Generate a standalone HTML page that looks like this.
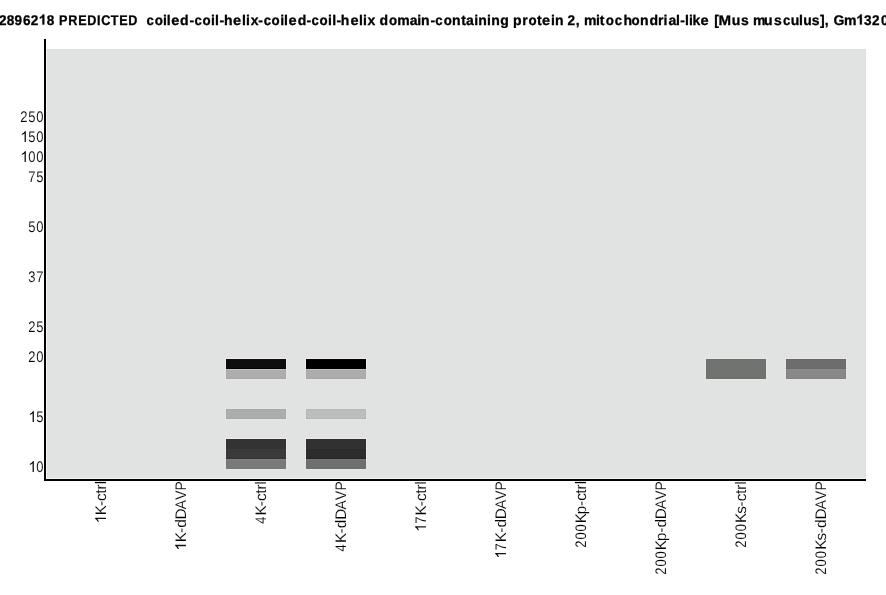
<!DOCTYPE html>
<html><head><meta charset="utf-8"><title>chart</title>
<style>
html,body{margin:0;padding:0;background:#fff;width:886px;height:595px;overflow:hidden;}
svg{display:block;will-change:transform;}
text{text-rendering:geometricPrecision;font-family:"Liberation Sans",sans-serif;fill:#000;}
.t{font-weight:bold;font-size:14px;stroke:#000;stroke-width:0.3px;}
.l{font-size:15.3px;stroke:#fff;stroke-width:0.12px;}
</style></head><body>
<svg width="886" height="595" viewBox="0 0 886 595">
<path transform="translate(38.70,24.60) scale(0.006836,-0.006836)" d="M820 0L539 0L539 1059C436 963 315 892 176 846L176 1101C249 1125 329 1170 415 1237C501 1304 560 1382 591 1466L820 1466Z" stroke="#000" stroke-width="0.3" vector-effect="non-scaling-stroke"/>
<path transform="translate(856.20,24.60) scale(0.006836,-0.006836)" d="M820 0L539 0L539 1059C436 963 315 892 176 846L176 1101C249 1125 329 1170 415 1237C501 1304 560 1382 591 1466L820 1466Z" stroke="#000" stroke-width="0.3" vector-effect="non-scaling-stroke"/>
<text class="t" transform="scale(0.97,1)" y="24.6" x="-1.12 6.88 14.88 23.61 31.58 48.11 584.98 890.71 899.00 908.21 917.42">28962823202</text>
<text class="t" transform="scale(1.0,1)" y="24.6" x="54.86 138.33 142.36 163.02 166.82 180.03 189.55 210.92 215.02 219.45 224.02 242.12 246.12 250.70 258.35 280.22 284.12 297.83 306.55 328.12 332.32 336.45 340.82 359.12 363.12 367.60 375.55 379.53 397.28 409.69 417.32 421.08 430.45 452.08 461.33 465.89 474.22 478.18 487.12 491.18 500.23 508.98 512.88 522.18 537.03 551.12 554.96 563.59 575.75 579.81 583.88 595.92 599.83 623.62 640.08 649.43 657.88 663.42 668.49 676.12 680.35 685.02 689.02 692.62 709.69 714.31 731.73 740.91 748.89 752.88 764.03 774.11 790.73 799.12 803.23 811.71 819.93 824.75 829.09 833.43 844.08">&#160;&#160;&#160;ild-il-hlix-ild-il-hlix&#160;dmain-ntaining&#160;prtin&#160;,&#160;mithndrial-lik&#160;[us&#160;musulus],&#160;Gm</text>
<text class="t" transform="scale(0.9,1)" y="24.6" x="65.51 75.73 86.95 96.84 107.73 112.54 122.95 132.51 142.51">PREDICTED</text>
<text class="t" transform="scale(0.94,1)" y="24.6" x="155.73 206.90 280.52 331.26 463.07 654.03 832.86">ccccccc</text>
<text class="t" transform="scale(0.95,1)" y="24.6" x="162.82 213.14 285.87 336.30 409.45 467.14 556.30 637.56 664.72">ooooooooo</text>
<text class="t" transform="scale(1.04,1)" y="24.6" x="164.65 223.97 277.43 337.05 521.09 673.49">eeeeee</text>
<text class="t" transform="scale(1.08,1)" y="24.6" x="665.36">M</text>
<rect x="47" y="49" width="819" height="429" fill="#e1e3e2" shape-rendering="crispEdges"/>
<rect x="47" y="49" width="819" height="1" fill="#dedfde" shape-rendering="crispEdges"/>
<rect x="865" y="49" width="1" height="429" fill="#dedfde" shape-rendering="crispEdges"/>
<rect x="46" y="49" width="1" height="430" fill="#f2f3f2" shape-rendering="crispEdges"/>
<rect x="46" y="478" width="820" height="1" fill="#f2f3f2" shape-rendering="crispEdges"/>
<rect x="225" y="358" width="62" height="12" fill="rgb(236, 238, 237)" shape-rendering="crispEdges"/>
<rect x="225" y="368" width="62" height="12" fill="rgb(228, 230, 229)" shape-rendering="crispEdges"/>
<rect x="225" y="408" width="62" height="12" fill="rgb(228, 230, 229)" shape-rendering="crispEdges"/>
<rect x="225" y="438" width="62" height="12" fill="rgb(234, 236, 235)" shape-rendering="crispEdges"/>
<rect x="225" y="448" width="62" height="12" fill="rgb(233, 235, 234)" shape-rendering="crispEdges"/>
<rect x="225" y="458" width="62" height="12" fill="rgb(230, 232, 231)" shape-rendering="crispEdges"/>
<rect x="305" y="358" width="62" height="12" fill="rgb(236, 238, 237)" shape-rendering="crispEdges"/>
<rect x="305" y="368" width="62" height="12" fill="rgb(228, 230, 229)" shape-rendering="crispEdges"/>
<rect x="305" y="408" width="62" height="12" fill="rgb(227, 229, 228)" shape-rendering="crispEdges"/>
<rect x="305" y="438" width="62" height="12" fill="rgb(234, 236, 235)" shape-rendering="crispEdges"/>
<rect x="305" y="448" width="62" height="12" fill="rgb(234, 236, 235)" shape-rendering="crispEdges"/>
<rect x="305" y="458" width="62" height="12" fill="rgb(231, 233, 232)" shape-rendering="crispEdges"/>
<rect x="705" y="358" width="62" height="12" fill="rgb(231, 233, 232)" shape-rendering="crispEdges"/>
<rect x="705" y="368" width="62" height="12" fill="rgb(231, 233, 232)" shape-rendering="crispEdges"/>
<rect x="785" y="358" width="62" height="12" fill="rgb(231, 233, 232)" shape-rendering="crispEdges"/>
<rect x="785" y="368" width="62" height="12" fill="rgb(229, 232, 230)" shape-rendering="crispEdges"/>
<rect x="226" y="359" width="60" height="10" fill="#0d0d0d" shape-rendering="crispEdges"/>
<rect x="226" y="369" width="60" height="10" fill="#adadad" shape-rendering="crispEdges"/>
<rect x="226" y="409" width="60" height="10" fill="#adadad" shape-rendering="crispEdges"/>
<rect x="226" y="439" width="60" height="10" fill="#333333" shape-rendering="crispEdges"/>
<rect x="226" y="449" width="60" height="10" fill="#3a3a3a" shape-rendering="crispEdges"/>
<rect x="226" y="459" width="60" height="10" fill="#7a7a7a" shape-rendering="crispEdges"/>
<rect x="306" y="359" width="60" height="10" fill="#000000" shape-rendering="crispEdges"/>
<rect x="306" y="369" width="60" height="10" fill="#acacac" shape-rendering="crispEdges"/>
<rect x="306" y="409" width="60" height="10" fill="#bdbdbd" shape-rendering="crispEdges"/>
<rect x="306" y="439" width="60" height="10" fill="#313131" shape-rendering="crispEdges"/>
<rect x="306" y="449" width="60" height="10" fill="#2c2c2c" shape-rendering="crispEdges"/>
<rect x="306" y="459" width="60" height="10" fill="#6e706e" shape-rendering="crispEdges"/>
<rect x="706" y="359" width="60" height="10" fill="#717371" shape-rendering="crispEdges"/>
<rect x="706" y="369" width="60" height="10" fill="#717371" shape-rendering="crispEdges"/>
<rect x="786" y="359" width="60" height="10" fill="#6d6d6d" shape-rendering="crispEdges"/>
<rect x="786" y="369" width="60" height="10" fill="#888888" shape-rendering="crispEdges"/>
<rect x="226" y="368" width="60" height="1" fill="rgb(0, 0, 0)" shape-rendering="crispEdges"/>
<rect x="226" y="369" width="60" height="1" fill="rgb(192, 192, 192)" shape-rendering="crispEdges"/>
<rect x="226" y="448" width="60" height="1" fill="rgb(50, 50, 50)" shape-rendering="crispEdges"/>
<rect x="226" y="449" width="60" height="1" fill="rgb(59, 59, 59)" shape-rendering="crispEdges"/>
<rect x="226" y="458" width="60" height="1" fill="rgb(50, 50, 50)" shape-rendering="crispEdges"/>
<rect x="226" y="459" width="60" height="1" fill="rgb(130, 130, 130)" shape-rendering="crispEdges"/>
<rect x="306" y="368" width="60" height="1" fill="rgb(0, 0, 0)" shape-rendering="crispEdges"/>
<rect x="306" y="369" width="60" height="1" fill="rgb(193, 193, 193)" shape-rendering="crispEdges"/>
<rect x="306" y="448" width="60" height="1" fill="rgb(50, 50, 50)" shape-rendering="crispEdges"/>
<rect x="306" y="449" width="60" height="1" fill="rgb(43, 43, 43)" shape-rendering="crispEdges"/>
<rect x="306" y="458" width="60" height="1" fill="rgb(36, 36, 36)" shape-rendering="crispEdges"/>
<rect x="306" y="459" width="60" height="1" fill="rgb(118, 120, 118)" shape-rendering="crispEdges"/>
<rect x="706" y="368" width="60" height="1" fill="rgb(113, 115, 113)" shape-rendering="crispEdges"/>
<rect x="706" y="369" width="60" height="1" fill="rgb(113, 115, 113)" shape-rendering="crispEdges"/>
<rect x="786" y="368" width="60" height="1" fill="rgb(106, 106, 106)" shape-rendering="crispEdges"/>
<rect x="786" y="369" width="60" height="1" fill="rgb(139, 139, 139)" shape-rendering="crispEdges"/>
<rect x="226.5" y="359.5" width="59" height="19" fill="none" stroke="rgba(0,0,0,0.03)" stroke-width="1"/>
<rect x="226.5" y="409.5" width="59" height="9" fill="none" stroke="rgba(0,0,0,0.03)" stroke-width="1"/>
<rect x="226.5" y="439.5" width="59" height="29" fill="none" stroke="rgba(0,0,0,0.03)" stroke-width="1"/>
<rect x="306.5" y="359.5" width="59" height="19" fill="none" stroke="rgba(0,0,0,0.03)" stroke-width="1"/>
<rect x="306.5" y="409.5" width="59" height="9" fill="none" stroke="rgba(0,0,0,0.03)" stroke-width="1"/>
<rect x="306.5" y="439.5" width="59" height="29" fill="none" stroke="rgba(0,0,0,0.03)" stroke-width="1"/>
<rect x="706.5" y="359.5" width="59" height="19" fill="none" stroke="rgba(0,0,0,0.03)" stroke-width="1"/>
<rect x="786.5" y="359.5" width="59" height="19" fill="none" stroke="rgba(0,0,0,0.03)" stroke-width="1"/>
<rect x="44" y="39" width="2" height="442" fill="#000" shape-rendering="crispEdges"/>
<rect x="44" y="479" width="822" height="2" fill="#000" shape-rendering="crispEdges"/>
<text class="l" transform="translate(20.18,122.00) scale(0.85,1)" x="0" y="0">2</text>
<text class="l" transform="translate(28.18,122.00) scale(0.85,1)" x="0" y="0">5</text>
<text class="l" transform="translate(36.18,122.00) scale(0.85,1)" x="0" y="0">0</text>
<path transform="translate(20.18,142.00) scale(0.007471,-0.007471)" d="M763 0L583 0L583 1147C540 1106 483 1064 413 1023C343 982 280 951 223 930L223 1104C324 1151 412 1209 487 1276C562 1343 615 1408 646 1466L763 1466Z" stroke="#fff" stroke-width="0.12" vector-effect="non-scaling-stroke"/>
<text class="l" transform="translate(28.18,142.00) scale(0.85,1)" x="0" y="0">5</text>
<text class="l" transform="translate(36.18,142.00) scale(0.85,1)" x="0" y="0">0</text>
<path transform="translate(20.18,162.00) scale(0.007471,-0.007471)" d="M763 0L583 0L583 1147C540 1106 483 1064 413 1023C343 982 280 951 223 930L223 1104C324 1151 412 1209 487 1276C562 1343 615 1408 646 1466L763 1466Z" stroke="#fff" stroke-width="0.12" vector-effect="non-scaling-stroke"/>
<text class="l" transform="translate(28.18,162.00) scale(0.85,1)" x="0" y="0">0</text>
<text class="l" transform="translate(36.18,162.00) scale(0.85,1)" x="0" y="0">0</text>
<text class="l" transform="translate(28.21,182.00) scale(0.85,1)" x="0" y="0">7</text>
<text class="l" transform="translate(36.21,182.00) scale(0.85,1)" x="0" y="0">5</text>
<text class="l" transform="translate(28.18,232.00) scale(0.85,1)" x="0" y="0">5</text>
<text class="l" transform="translate(36.18,232.00) scale(0.85,1)" x="0" y="0">0</text>
<text class="l" transform="translate(28.32,282.00) scale(0.85,1)" x="0" y="0">3</text>
<text class="l" transform="translate(36.32,282.00) scale(0.85,1)" x="0" y="0">7</text>
<text class="l" transform="translate(28.21,332.00) scale(0.85,1)" x="0" y="0">2</text>
<text class="l" transform="translate(36.21,332.00) scale(0.85,1)" x="0" y="0">5</text>
<text class="l" transform="translate(28.18,362.00) scale(0.85,1)" x="0" y="0">2</text>
<text class="l" transform="translate(36.18,362.00) scale(0.85,1)" x="0" y="0">0</text>
<path transform="translate(28.21,422.00) scale(0.007471,-0.007471)" d="M763 0L583 0L583 1147C540 1106 483 1064 413 1023C343 982 280 951 223 930L223 1104C324 1151 412 1209 487 1276C562 1343 615 1408 646 1466L763 1466Z" stroke="#fff" stroke-width="0.12" vector-effect="non-scaling-stroke"/>
<text class="l" transform="translate(36.21,422.00) scale(0.85,1)" x="0" y="0">5</text>
<path transform="translate(28.18,472.00) scale(0.007471,-0.007471)" d="M763 0L583 0L583 1147C540 1106 483 1064 413 1023C343 982 280 951 223 930L223 1104C324 1151 412 1209 487 1276C562 1343 615 1408 646 1466L763 1466Z" stroke="#fff" stroke-width="0.12" vector-effect="non-scaling-stroke"/>
<text class="l" transform="translate(36.18,472.00) scale(0.85,1)" x="0" y="0">0</text>
<g transform="translate(106,0) rotate(-90)"><path transform="translate(-523.47,0.00) scale(0.007471,-0.007471)" d="M763 0L583 0L583 1147C540 1106 483 1064 413 1023C343 982 280 951 223 930L223 1104C324 1151 412 1209 487 1276C562 1343 615 1408 646 1466L763 1466Z" stroke="#fff" stroke-width="0.12" vector-effect="non-scaling-stroke"/><text class="l" x="-515.29" y="0.00">K</text><text class="l" x="-506.12" y="0.00">-</text><text class="l" x="-500.93" y="0.00">c</text><text class="l" x="-493.75" y="0.00">t</text><text class="l" x="-489.56" y="0.00">r</text><text class="l" x="-484.37" y="0.00">l</text></g>
<g transform="translate(186,0) rotate(-90)"><path transform="translate(-550.57,0.00) scale(0.007471,-0.007471)" d="M763 0L583 0L583 1147C540 1106 483 1064 413 1023C343 982 280 951 223 930L223 1104C324 1151 412 1209 487 1276C562 1343 615 1408 646 1466L763 1466Z" stroke="#fff" stroke-width="0.12" vector-effect="non-scaling-stroke"/><text class="l" x="-542.28" y="0.00">K</text><text class="l" x="-532.99" y="0.00">-</text><text class="l" x="-527.73" y="0.00">d</text><text class="l" x="-519.43" y="0.00">D</text><text class="l" transform="translate(-509.14,0.00) scale(0.9,1)" x="0" y="0">A</text><text class="l" transform="translate(-499.84,0.00) scale(0.9,1)" x="0" y="0">V</text><text class="l" transform="translate(-490.53,0.00) scale(0.9,1)" x="0" y="0">P</text></g>
<g transform="translate(266,0) rotate(-90)"><text class="l" transform="translate(-523.70,0.00) scale(0.85,1)" x="0" y="0">4</text><text class="l" x="-515.47" y="0.00">K</text><text class="l" x="-506.25" y="0.00">-</text><text class="l" x="-501.03" y="0.00">c</text><text class="l" x="-493.81" y="0.00">t</text><text class="l" x="-489.60" y="0.00">r</text><text class="l" x="-484.38" y="0.00">l</text></g>
<g transform="translate(346,0) rotate(-90)"><text class="l" transform="translate(-551.40,0.00) scale(0.85,1)" x="0" y="0">4</text><text class="l" x="-542.99" y="0.00">K</text><text class="l" x="-533.59" y="0.00">-</text><text class="l" x="-528.27" y="0.00">d</text><text class="l" x="-519.87" y="0.00">D</text><text class="l" transform="translate(-509.46,0.00) scale(0.9,1)" x="0" y="0">A</text><text class="l" transform="translate(-500.05,0.00) scale(0.9,1)" x="0" y="0">V</text><text class="l" transform="translate(-490.62,0.00) scale(0.9,1)" x="0" y="0">P</text></g>
<g transform="translate(426,0) rotate(-90)"><path transform="translate(-531.97,0.00) scale(0.007471,-0.007471)" d="M763 0L583 0L583 1147C540 1106 483 1064 413 1023C343 982 280 951 223 930L223 1104C324 1151 412 1209 487 1276C562 1343 615 1408 646 1466L763 1466Z" stroke="#fff" stroke-width="0.12" vector-effect="non-scaling-stroke"/><text class="l" transform="translate(-523.74,0.00) scale(0.85,1)" x="0" y="0">7</text><text class="l" x="-515.51" y="0.00">K</text><text class="l" x="-506.27" y="0.00">-</text><text class="l" x="-501.05" y="0.00">c</text><text class="l" x="-493.82" y="0.00">t</text><text class="l" x="-489.60" y="0.00">r</text><text class="l" x="-484.38" y="0.00">l</text></g>
<g transform="translate(506,0) rotate(-90)"><path transform="translate(-558.67,0.00) scale(0.007471,-0.007471)" d="M763 0L583 0L583 1147C540 1106 483 1064 413 1023C343 982 280 951 223 930L223 1104C324 1151 412 1209 487 1276C562 1343 615 1408 646 1466L763 1466Z" stroke="#fff" stroke-width="0.12" vector-effect="non-scaling-stroke"/><text class="l" transform="translate(-550.40,0.00) scale(0.85,1)" x="0" y="0">7</text><text class="l" x="-542.13" y="0.00">K</text><text class="l" x="-532.86" y="0.00">-</text><text class="l" x="-527.61" y="0.00">d</text><text class="l" x="-519.34" y="0.00">D</text><text class="l" transform="translate(-509.07,0.00) scale(0.9,1)" x="0" y="0">A</text><text class="l" transform="translate(-499.79,0.00) scale(0.9,1)" x="0" y="0">V</text><text class="l" transform="translate(-490.51,0.00) scale(0.9,1)" x="0" y="0">P</text></g>
<g transform="translate(586,0) rotate(-90)"><text class="l" transform="translate(-547.75,0.00) scale(0.85,1)" x="0" y="0">2</text><text class="l" transform="translate(-539.61,0.00) scale(0.85,1)" x="0" y="0">0</text><text class="l" transform="translate(-531.46,0.00) scale(0.85,1)" x="0" y="0">0</text><text class="l" x="-523.32" y="0.00">K</text><text class="l" x="-514.18" y="0.00">p</text><text class="l" x="-506.03" y="0.00">-</text><text class="l" x="-500.86" y="0.00">c</text><text class="l" x="-493.71" y="0.00">t</text><text class="l" x="-489.53" y="0.00">r</text><text class="l" x="-484.37" y="0.00">l</text></g>
<g transform="translate(666,0) rotate(-90)"><text class="l" transform="translate(-574.85,0.00) scale(0.85,1)" x="0" y="0">2</text><text class="l" transform="translate(-566.62,0.00) scale(0.85,1)" x="0" y="0">0</text><text class="l" transform="translate(-558.38,0.00) scale(0.85,1)" x="0" y="0">0</text><text class="l" x="-550.14" y="0.00">K</text><text class="l" x="-540.90" y="0.00">p</text><text class="l" x="-532.67" y="0.00">-</text><text class="l" x="-527.44" y="0.00">d</text><text class="l" x="-519.20" y="0.00">D</text><text class="l" transform="translate(-508.96,0.00) scale(0.9,1)" x="0" y="0">A</text><text class="l" transform="translate(-499.72,0.00) scale(0.9,1)" x="0" y="0">V</text><text class="l" transform="translate(-490.48,0.00) scale(0.9,1)" x="0" y="0">P</text></g>
<g transform="translate(746,0) rotate(-90)"><text class="l" transform="translate(-547.75,0.00) scale(0.85,1)" x="0" y="0">2</text><text class="l" transform="translate(-539.48,0.00) scale(0.85,1)" x="0" y="0">0</text><text class="l" transform="translate(-531.21,0.00) scale(0.85,1)" x="0" y="0">0</text><text class="l" x="-522.93" y="0.00">K</text><text class="l" x="-513.66" y="0.00">s</text><text class="l" x="-506.39" y="0.00">-</text><text class="l" x="-501.14" y="0.00">c</text><text class="l" x="-493.88" y="0.00">t</text><text class="l" x="-489.64" y="0.00">r</text><text class="l" x="-484.39" y="0.00">l</text></g>
<g transform="translate(826,0) rotate(-90)"><text class="l" transform="translate(-574.85,0.00) scale(0.85,1)" x="0" y="0">2</text><text class="l" transform="translate(-566.53,0.00) scale(0.85,1)" x="0" y="0">0</text><text class="l" transform="translate(-558.20,0.00) scale(0.85,1)" x="0" y="0">0</text><text class="l" x="-549.86" y="0.00">K</text><text class="l" x="-540.53" y="0.00">s</text><text class="l" x="-533.22" y="0.00">-</text><text class="l" x="-527.93" y="0.00">d</text><text class="l" x="-519.60" y="0.00">D</text><text class="l" transform="translate(-509.26,0.00) scale(0.9,1)" x="0" y="0">A</text><text class="l" transform="translate(-499.92,0.00) scale(0.9,1)" x="0" y="0">V</text><text class="l" transform="translate(-490.56,0.00) scale(0.9,1)" x="0" y="0">P</text></g>
</svg>
</body></html>
